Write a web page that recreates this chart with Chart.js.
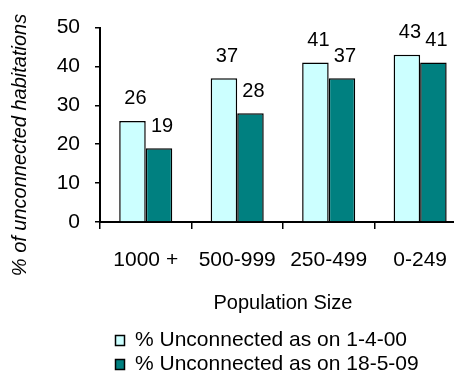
<!DOCTYPE html>
<html>
<head>
<meta charset="utf-8">
<script src="https://cdn.jsdelivr.net/npm/chart.js@4/dist/chart.umd.min.js"></script>
<style>
  html, body { margin: 0; padding: 0; background: #fff; overflow: hidden; }
  canvas { display: block; }
</style>
</head>
<body>
<canvas id="chart" width="466" height="381"></canvas>
<script>
// Population size classes
const categories = ['1000 +', '500-999', '250-499', '0-249'];
// Share of habitations without connection (%)
const unconnected2000 = [26, 37, 41, 43];
const unconnected2009 = [19, 28, 37, 41];
const seriesNames = ['% Unconnected as on 1-4-00', '% Unconnected as on 18-5-09'];
const yTicks = [0, 10, 20, 30, 40, 50];

const FONT = 'Liberation Sans, Arial, sans-serif';

// value labels above each bar
const valueLabels = {
  id: 'valueLabels',
  afterDatasetsDraw(chart) {
    const ctx = chart.ctx;
    ctx.save();
    ctx.font = '20px ' + FONT;
    ctx.fillStyle = '#000';
    ctx.textAlign = 'center';
    ctx.textBaseline = 'middle';
    chart.data.datasets.forEach((ds, i) => {
      chart.getDatasetMeta(i).data.forEach((bar, j) => {
        ctx.fillText(String(ds.data[j]), bar.x + 3, bar.y - 22);
      });
    });
    ctx.restore();
  }
};

// rotated italic y-axis caption
const yCaption = {
  id: 'yCaption',
  afterDraw(chart) {
    const ctx = chart.ctx;
    ctx.save();
    ctx.translate(20, 145);
    ctx.rotate(-Math.PI / 2);
    ctx.font = 'italic 20px ' + FONT;
    ctx.fillStyle = '#000';
    ctx.textAlign = 'center';
    ctx.textBaseline = 'middle';
    ctx.fillText('% of unconnected habitations', 0, 0);
    ctx.restore();
  }
};

// indent the stacked legend rows and drop them slightly
const legendIndent = {
  id: 'legendIndent',
  afterLayout(chart) {
    if (chart.legend) {
      chart.legend.left = chart.chartArea.left + 12.5;
      chart.legend.top += 4;
    }
  }
};

new Chart(document.getElementById('chart'), {
  type: 'bar',
  data: {
    labels: categories,
    datasets: [
      {
        label: seriesNames[0],
        data: unconnected2000,
        backgroundColor: '#CCFFFF',
        borderColor: '#000',
        borderWidth: 1.5
      },
      {
        label: seriesNames[1],
        data: unconnected2009,
        backgroundColor: '#008080',
        borderColor: '#000',
        borderWidth: 1.5
      }
    ]
  },
  options: {
    responsive: false,
    animation: false,
    devicePixelRatio: 1,
    layout: { padding: { top: 27, right: 0, left: 0, bottom: 0 } },
    datasets: {
      bar: { categoryPercentage: 0.58, barPercentage: 1.0 }
    },
    scales: {
      x: {
        grid: {
          display: true,
          drawOnChartArea: false,
          drawTicks: true,
          tickLength: 7,
          color: '#000',
          lineWidth: 1.5,
          offset: true
        },
        border: { display: true, color: '#000', width: 2 },
        ticks: {
          font: { family: FONT, size: 21 },
          color: '#000',
          padding: 19,
          maxRotation: 0,
          autoSkip: false
        },
        title: {
          display: true,
          text: 'Population Size',
          font: { family: FONT, size: 20 },
          color: '#000',
          padding: { top: 10, bottom: 8 }
        },
        afterFit(scale) { scale.height = 101; }
      },
      y: {
        min: 0,
        max: 50,
        afterBuildTicks(scale) { scale.ticks = yTicks.map(v => ({ value: v })); },
        grid: {
          display: true,
          drawOnChartArea: false,
          drawTicks: true,
          tickLength: 5,
          color: '#000',
          lineWidth: 1.5
        },
        border: { display: true, color: '#000', width: 2 },
        ticks: {
          font: { family: FONT, size: 21 },
          color: '#000',
          padding: 15
        },
        afterFit(scale) { scale.width = 100; }
      }
    },
    plugins: {
      legend: {
        position: 'bottom',
        align: 'start',
        fullSize: false,
        labels: {
          font: { family: FONT, size: 21 },
          color: '#000',
          boxWidth: 9,
          boxHeight: 10,
          padding: 3
        }
      },
      tooltip: { enabled: false }
    }
  },
  plugins: [valueLabels, yCaption, legendIndent]
});
</script>
</body>
</html>
